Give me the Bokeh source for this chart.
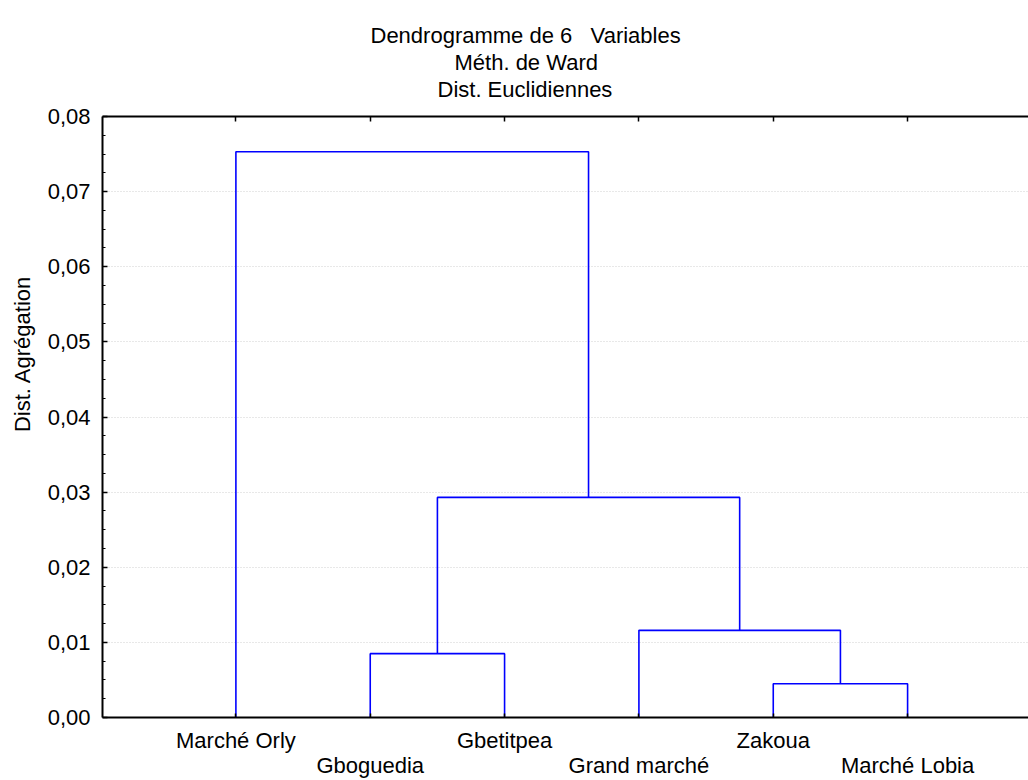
from bokeh.plotting import figure
from bokeh.models import (LinearAxis, FixedTicker, CustomJSTickFormatter, Title, Range1d)
from bokeh.embed import file_html
from bokeh.resources import INLINE

# ---------------- data ----------------
leaves = ["Marché Orly", "Gboguedia", "Gbetitpea", "Grand marché", "Zakoua", "Marché Lobia"]
# linkage (scipy style: leaves 0..5, clusters 6..)
merge_left = [4, 1, 3, 7, 0]
merge_right = [5, 2, 6, 8, 9]
merge_height = [0.0045, 0.0085, 0.0116, 0.0293, 0.0753]
y_ticks = [0.00, 0.01, 0.02, 0.03, 0.04, 0.05, 0.06, 0.07, 0.08]
title_lines = ["Dendrogramme de 6 \u00a0 Variables", "Méth. de Ward", "Dist. Euclidiennes"]
y_label = "Dist. Agrégation"

FONT = "Liberation Sans"
FS = "22px"

# ---------------- dendrogram geometry ----------------
node_x = [float(i + 1) for i in range(len(leaves))]
node_h = [0.0] * len(leaves)
xs, ys = [], []
for a, b, h in zip(merge_left, merge_right, merge_height):
    xa, xb = node_x[a], node_x[b]
    xs.append([xa, xa, xb, xb])
    ys.append([node_h[a], h, h, node_h[b]])
    node_x.append((xa + xb) / 2.0)
    node_h.append(h)
leaf_x = node_x[:len(leaves)]

p = figure(width=1028, height=780, output_backend="svg", toolbar_location=None,
           x_range=Range1d(0.007, 6.9), y_range=Range1d(0, 0.08),
           x_axis_location=None, y_axis_location=None,
           min_border_left=102, min_border_right=0, min_border_top=116, min_border_bottom=62)
p.outline_line_color = None
p.background_fill_color = "white"
p.border_fill_color = "white"

p.multi_line(xs, ys, line_color="#0000ff", line_width=1.6)

# left axis
step = y_ticks[1] - y_ticks[0]
minor = [t + k * step / 4 for t in y_ticks[:-1] for k in range(1, 4)]
yt = FixedTicker(ticks=y_ticks, minor_ticks=minor)
left = LinearAxis(ticker=yt,
                  formatter=CustomJSTickFormatter(code="return tick.toFixed(2).replace('.', ',');"),
                  major_tick_in=5, major_tick_out=0, minor_tick_in=3, minor_tick_out=0,
                  axis_line_width=2, major_tick_line_width=1.5, minor_tick_line_width=1.2,
                  major_label_text_font=FONT, major_label_text_font_size=FS,
                  major_label_text_color="black", major_label_standoff=12)
p.add_layout(left, "left")
p.add_layout(Title(text=y_label, align="right", offset=159, standoff=16,
                   vertical_align="top",
                   text_font=FONT, text_font_size=FS, text_font_style="normal",
                   text_color="black"), "left")

# top axis (ticks only)
top = LinearAxis(ticker=FixedTicker(ticks=leaf_x),
                 formatter=CustomJSTickFormatter(code="return '';"),
                 major_tick_in=5, major_tick_out=0, minor_tick_in=0, minor_tick_out=0,
                 axis_line_width=2, major_tick_line_width=1.5,
                 major_label_text_font_size="1px", major_label_standoff=0)
p.add_layout(top, "above")
# invisible spacer between the frame's top edge and the title lines
spacer = LinearAxis(ticker=FixedTicker(ticks=leaf_x),
                    formatter=CustomJSTickFormatter(code="return '';"),
                    axis_line_color=None, major_tick_line_color=None,
                    major_tick_in=0, major_tick_out=15, minor_tick_in=0, minor_tick_out=0,
                    major_label_text_font_size="1px", major_label_standoff=0)
p.add_layout(spacer, "above")

# title lines, added from the frame outward; offsets place them centred near x=526
title_offsets = [268, 352, 335]
for i in reversed(range(len(title_lines))):
    p.add_layout(Title(text=title_lines[i], align="left", offset=title_offsets[i],
                       standoff=0, text_font=FONT, text_font_size=FS,
                       text_font_style="normal", text_color="black"), "above")

# bottom axis: labels alternate between two rows
labels = {leaf_x[i]: (leaves[i] if i % 2 == 0 else "\n" + leaves[i]) for i in range(len(leaves))}
bottom = LinearAxis(ticker=FixedTicker(ticks=leaf_x), major_label_overrides=labels,
                    major_tick_in=4, major_tick_out=0, minor_tick_in=0, minor_tick_out=0,
                    axis_line_width=2, major_tick_line_width=1.5,
                    major_label_text_font=FONT, major_label_text_font_size=FS,
                    major_label_text_line_height=1.0,
                    major_label_text_color="black", major_label_standoff=10)
p.add_layout(bottom, "below")

# grid
p.ygrid.ticker = yt
p.ygrid.grid_line_color = "#d0d0d0"
p.ygrid.grid_line_dash = "1 2"
p.xgrid.grid_line_color = None

open("out.html", "w").write(file_html(p, INLINE))
